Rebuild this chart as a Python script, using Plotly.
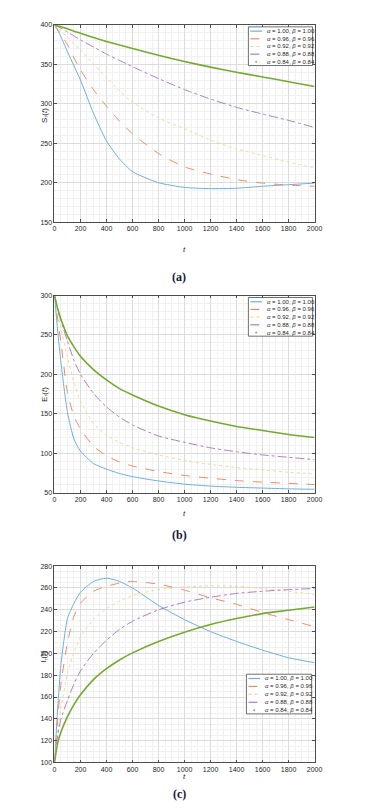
import plotly.graph_objects as go

W, H = 371, 810

# time grid
t = [0, 25, 50, 100, 150, 200, 300, 400, 500, 600, 800, 1000, 1200, 1400, 1600, 1800, 2000]

# (a) S_r(t)
S_100 = [400, 393, 385, 366, 348, 330, 288, 253, 230, 214, 200, 194, 192.5, 193, 195.5, 197.5, 199.5]
S_096 = [400, 394, 388, 375, 358, 343, 318, 297, 278, 262, 237, 220, 211, 204, 199.5, 197, 195.5]
S_092 = [400, 396, 392, 384, 376, 368, 350, 333, 316, 302, 282, 268.5, 254, 243, 234.5, 226, 219]
S_088 = [400, 398, 396, 391, 386, 381, 372, 363, 355, 347, 332, 318, 306, 295.5, 287, 279, 270]
S_084 = [400, 398.7, 397.5, 395, 392, 389.5, 384, 379, 374.5, 370, 361.5, 353.5, 346.5, 340, 334, 328, 322]

# (b) E_r(t)
E_100 = [300, 255, 215, 152, 118, 103, 87, 80, 74.5, 70.5, 65, 61, 58.5, 57, 56, 55, 54.5]
E_096 = [300, 270, 240, 177, 147, 131, 109, 97, 89, 84, 77, 72, 68.5, 65.5, 63.5, 62, 60.5]
E_092 = [300, 278, 258, 222, 190, 166, 138, 123, 114, 107, 98, 91, 86, 82, 79, 76, 74]
E_088 = [300, 283, 268, 242, 218, 200, 176, 159, 146, 136, 122, 114, 107, 102, 98, 95, 92]
E_084 = [300, 283, 270, 249, 235, 223, 206, 193, 182, 174, 160, 149, 141, 134, 129, 124, 120]

# (c) I_r(t)
I_100 = [100, 150, 190, 232, 246, 256, 266, 269, 266, 260, 244, 231, 220, 211, 203, 196, 191.5]
I_096 = [100, 140, 172, 210, 234, 246, 257, 261.5, 264.5, 266, 263.5, 258, 251, 245, 237.5, 231, 224.5]
I_092 = [100, 130, 150, 182, 201, 215, 231, 241, 248, 253, 258.5, 261, 262, 261.5, 259.5, 257, 254]
I_088 = [100, 125, 140, 157, 172, 184, 200, 212, 222, 229.5, 240, 247, 251.5, 255, 257, 258.5, 259.5]
I_084 = [100, 118, 128, 142, 153, 162, 176, 186, 194, 200.5, 211, 219.5, 226.5, 232, 236.5, 239.5, 242.5]

orders = ["1.00", "0.96", "0.92", "0.88", "0.84"]
x_ticks = [0, 200, 400, 600, 800, 1000, 1200, 1400, 1600, 1800, 2000]

colors = ["#6cb0e0", "#ee8a60", "#f3d898", "#b07cc0", "#74ab2e"]
dashes = ["solid", "dash", "dot", "dashdot", "solid"]
widths = [1, 1, 1, 1, 1.6]

FONT = "Liberation Sans"
AX = "#4d4d4d"


def px(x):
    return x / W


def py(y):
    return 1 - y / H


panels = [
    dict(series=[S_100, S_096, S_092, S_088, S_084], ylab="S<sub>r</sub>(<i>t</i>)",
         yr=[150, 400], dt=50, mdt=10, top=13, bot=212, ylab_y=95, cap="(a)", cap_y=258,
         leg=(245, 311, 15, 54)),
    dict(series=[E_100, E_096, E_092, E_088, E_084], ylab="E<sub>r</sub>(<i>t</i>)",
         yr=[50, 300], dt=50, mdt=10, top=286, bot=485, ylab_y=386, cap="(b)", cap_y=528,
         leg=(245, 311, 288, 327)),
    dict(series=[I_100, I_096, I_092, I_088, I_084], ylab="I<sub>r</sub>(<i>t</i>)",
         yr=[100, 280], dt=20, mdt=5, top=559, bot=757, ylab_y=658, cap="(c)", cap_y=798,
         leg=(243, 310, 668, 708)),
]

XL, XR = 45.7, 313

fig = go.Figure()
shapes = []
annotations = []

for k, p in enumerate(panels):
    sfx = "" if k == 0 else str(k + 1)
    for i, vals in enumerate(p["series"]):
        fig.add_trace(go.Scatter(
            x=t, y=vals, mode="lines", xaxis="x" + sfx, yaxis="y" + sfx,
            line=dict(color=colors[i], dash=dashes[i], width=widths[i],
                      shape="spline", smoothing=0.6),
            showlegend=False, hoverinfo="skip",
        ))

    axis_common = dict(
        showline=True, linecolor=AX, linewidth=0.8, mirror="ticks",
        ticks="inside", ticklen=3, tickcolor=AX, tickwidth=0.8,
        showgrid=True, gridcolor="#dcdcdc", gridwidth=0.6, zeroline=False,
        tickfont=dict(family=FONT, size=7, color="#262626"),
    )
    minor_x = dict(dtick=50, showgrid=True, gridcolor="#f1f1f1", gridwidth=0.5)
    minor_y = dict(dtick=p["mdt"], showgrid=True, gridcolor="#f1f1f1", gridwidth=0.5)
    fig.update_layout(**{
        "xaxis" + sfx: dict(axis_common, domain=[px(XL), px(XR)], range=[0, 2000],
                            anchor="y" + sfx, tickvals=x_ticks, minor=minor_x),
        "yaxis" + sfx: dict(axis_common, domain=[py(p["bot"]), py(p["top"])], range=p["yr"],
                            anchor="x" + sfx, dtick=p["dt"], minor=minor_y),
    })

    # axis titles and caption
    annotations.append(dict(x=px((XL + XR) / 2), y=py(p["bot"] + 21), xref="paper", yref="paper",
                            text="<i>t</i>", showarrow=False,
                            font=dict(family=FONT, size=8, color="#262626")))
    annotations.append(dict(x=px(28), y=py(p["ylab_y"]), xref="paper", yref="paper",
                            text=p["ylab"], showarrow=False, textangle=-90,
                            font=dict(family=FONT, size=8, color="#262626")))
    annotations.append(dict(x=px(174), y=py(p["cap_y"]), xref="paper", yref="paper",
                            text="<b>" + p["cap"] + "</b>", showarrow=False,
                            font=dict(family="Liberation Serif", size=12, color="#15153a")))

    # legend box
    x0, x1, y0, y1 = p["leg"]
    shapes.append(dict(type="rect", xref="paper", yref="paper",
                       x0=px(x0), x1=px(x1), y0=py(y1), y1=py(y0),
                       line=dict(color="#333333", width=0.7), fillcolor="white", layer="above"))
    step = (y1 - y0 - 8) / 4
    for i, a in enumerate(orders):
        yy = y0 + 4.3 + i * step
        if i < 4:
            shapes.append(dict(type="line", xref="paper", yref="paper",
                               x0=px(x0 + 2), x1=px(x0 + 14), y0=py(yy), y1=py(yy),
                               line=dict(color=colors[i], dash=dashes[i], width=1.2),
                               layer="above"))
        else:
            shapes.append(dict(type="circle", xref="paper", yref="paper",
                               x0=px(x0 + 7.3), x1=px(x0 + 8.7), y0=py(yy + 0.7), y1=py(yy - 0.7),
                               line=dict(color=colors[i], width=0.5), fillcolor=colors[i],
                               layer="above"))
        annotations.append(dict(x=px(x0 + 17), y=py(yy), xref="paper", yref="paper",
                                xanchor="left", yanchor="middle", showarrow=False,
                                text="<i>α</i> = " + a + ", <i>β</i> = " + a,
                                font=dict(family=FONT, size=6, color="#262626")))

fig.update_layout(
    width=W, height=H, autosize=False,
    margin=dict(l=0, r=0, t=0, b=0),
    paper_bgcolor="white", plot_bgcolor="white",
    showlegend=False,
    shapes=shapes, annotations=annotations,
)

fig.write_html("out.html")
